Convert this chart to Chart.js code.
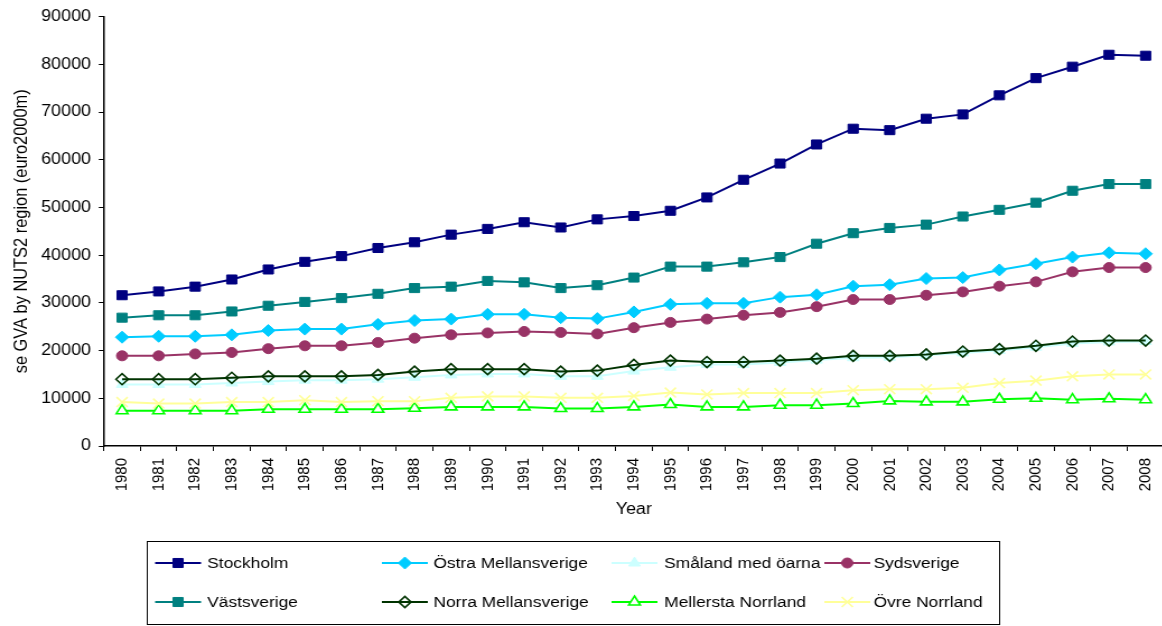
<!DOCTYPE html>
<html>
<head>
<meta charset="utf-8">
<script src="https://cdn.jsdelivr.net/npm/chart.js@4.4.1/dist/chart.umd.min.js"></script>
<style>
  html, body { margin: 0; padding: 0; overflow: hidden; background: #ffffff; }
  #wrap { width: 1162px; height: 626px; overflow: hidden; position: relative; }
  /* the chart is drawn a little narrower and widened to the final size */
  #c { position: absolute; left: 0; top: 0; transform: scaleX(1.12); transform-origin: 0 0; }
</style>
</head>
<body>
<div id="wrap"><canvas id="c" width="1048" height="626"></canvas></div>
<script>
// Gross value added by NUTS2 region, Sweden, million euro (2000 prices)
const years = ['1980','1981','1982','1983','1984','1985','1986','1987','1988','1989',
  '1990','1991','1992','1993','1994','1995','1996','1997','1998','1999',
  '2000','2001','2002','2003','2004','2005','2006','2007','2008'];

const seriesNames = ['Stockholm', 'Östra Mellansverige', 'Småland med öarna', 'Sydsverige',
  'Västsverige', 'Norra Mellansverige', 'Mellersta Norrland', 'Övre Norrland'];

const stockholm = [31600, 32400, 33400, 34900, 37000, 38600, 39800, 41500, 42700, 44300,
  45500, 46900, 45800, 47500, 48200, 49300, 52100, 55800, 59200, 63200,
  66500, 66200, 68600, 69500, 73500, 77100, 79500, 82000, 81800];

const ostraMellansverige = [22800, 23000, 23000, 23300, 24200, 24500, 24500, 25500, 26300, 26600,
  27600, 27600, 26900, 26700, 28100, 29700, 29900, 29900, 31200, 31700,
  33500, 33800, 35100, 35300, 36900, 38200, 39600, 40500, 40300];

const smaland = [12900, 12900, 12900, 13200, 13500, 13800, 13800, 14000, 14400, 14900,
  15100, 15100, 14600, 14600, 15700, 16500, 17100, 17100, 17500, 18000,
  18500, 18600, 19000, 19500, 20000, 20700, 21500, 21800, 21900];

const sydsverige = [18900, 18900, 19300, 19600, 20400, 21000, 21000, 21700, 22600, 23300,
  23700, 24000, 23800, 23500, 24800, 25900, 26600, 27400, 28000, 29200,
  30700, 30700, 31600, 32300, 33500, 34400, 36500, 37400, 37400];

const vastsverige = [26900, 27400, 27400, 28200, 29400, 30200, 31000, 31900, 33100, 33400,
  34600, 34300, 33100, 33700, 35300, 37600, 37600, 38500, 39600, 42400,
  44600, 45700, 46400, 48100, 49500, 51000, 53500, 54900, 54900];

const norraMellansverige = [14000, 14000, 14000, 14300, 14600, 14600, 14600, 14900, 15600, 16100,
  16100, 16100, 15600, 15800, 17000, 17900, 17600, 17600, 17900, 18300,
  18900, 18900, 19200, 19800, 20300, 21000, 21900, 22100, 22100];

const mellerstaNorrland = [7400, 7400, 7400, 7400, 7700, 7700, 7700, 7700, 7900, 8200,
  8200, 8200, 7850, 7850, 8200, 8700, 8200, 8200, 8550, 8550,
  8900, 9450, 9250, 9250, 9800, 10000, 9700, 9900, 9700];

const ovreNorrland = [9200, 8900, 8900, 9200, 9200, 9600, 9200, 9400, 9400, 10100,
  10400, 10400, 10100, 10100, 10500, 11200, 10800, 11100, 11100, 11100,
  11700, 11900, 11900, 12200, 13200, 13700, 14600, 15000, 15000];

const yTicks = [0, 10000, 20000, 30000, 40000, 50000, 60000, 70000, 80000, 90000];

const FONT = '"Liberation Sans", Arial, sans-serif';

function series(label, data, color, style, radius, fill, borderW, order) {
  return {
    label, data,
    borderColor: color,
    backgroundColor: color,
    borderWidth: 2,
    pointStyle: style,
    pointRadius: radius,
    pointHoverRadius: radius,
    pointBackgroundColor: fill,
    pointBorderColor: color,
    pointBorderWidth: borderW,
    tension: 0,
    fill: false,
    order
  };
}

const datasets = [
  series(seriesNames[0], stockholm, '#000080', 'rect', 6.4, '#000080', 1, 7),
  series(seriesNames[1], ostraMellansverige, '#00CCFF', 'rectRot', 6, '#00CCFF', 1, 6),
  series(seriesNames[2], smaland, '#CCFFFF', 'triangle', 6, '#CCFFFF', 1, 5),
  series(seriesNames[3], sydsverige, '#993366', 'circle', 5, '#993366', 1, 4),
  series(seriesNames[4], vastsverige, '#008080', 'rect', 6.4, '#008080', 1, 3),
  series(seriesNames[5], norraMellansverige, '#003300', 'rectRot', 5.5, 'rgba(0,0,0,0)', 1.6, 2),
  series(seriesNames[6], mellerstaNorrland, '#00FF00', 'triangle', 6, '#FFFFFF', 1.6, 1),
  series(seriesNames[7], ovreNorrland, '#FFFF99', 'crossRot', 7, '#FFFF99', 1.6, 0)
];

// legend block under the chart: two rows of four entries inside a framed box
const legendLayout = {
  box: { x: 131.5, y: 541.5, w: 761, h: 83 },
  lineX: [138.5, 341, 546, 736],
  textX: [185, 387, 593, 780],
  rowY: [563, 602],
  sampleLen: 41
};

const boxedLegend = {
  id: 'boxedLegend',
  afterDraw(chart) {
    const ctx = chart.ctx;
    const L = legendLayout;
    ctx.save();
    ctx.strokeStyle = '#000000';
    ctx.lineWidth = 1;
    ctx.strokeRect(L.box.x, L.box.y, L.box.w, L.box.h);
    chart.data.datasets.forEach((ds, i) => {
      const col = i % 4, row = Math.floor(i / 4);
      const x = L.lineX[col], y = L.rowY[row];
      ctx.strokeStyle = ds.borderColor;
      ctx.lineWidth = ds.borderWidth;
      ctx.beginPath();
      ctx.moveTo(x, y);
      ctx.lineTo(x + L.sampleLen, y);
      ctx.stroke();
      ctx.fillStyle = ds.pointBackgroundColor;
      ctx.strokeStyle = ds.pointBorderColor;
      ctx.lineWidth = ds.pointBorderWidth;
      Chart.helpers.drawPoint(ctx, {
        pointStyle: ds.pointStyle, rotation: 0,
        radius: ds.pointRadius, borderWidth: ds.pointBorderWidth
      }, x + L.sampleLen / 2, y);
      ctx.fillStyle = '#000000';
      ctx.font = '15.5px ' + FONT;
      ctx.textAlign = 'left';
      ctx.textBaseline = 'middle';
      ctx.fillText(ds.label, L.textX[col], y + 1);
    });
    ctx.restore();
  }
};

new Chart(document.getElementById('c'), {
  type: 'line',
  data: { labels: years, datasets },
  plugins: [boxedLegend],
  options: {
    responsive: false,
    animation: false,
    devicePixelRatio: 1,
    layout: { padding: { top: 14, right: 8.5, bottom: 100, left: 0 } },
    plugins: {
      legend: { display: false },
      tooltip: { enabled: false }
    },
    scales: {
      x: {
        type: 'category',
        offset: true,
        afterFit(scale) { scale.height = 80; },
        grid: {
          offset: true,
          drawOnChartArea: false,
          drawTicks: true,
          tickLength: 5,
          color: '#000000',
          lineWidth: 1
        },
        border: { display: true, color: '#000000', width: 1.5 },
        ticks: {
          autoSkip: false,
          minRotation: 90,
          maxRotation: 90,
          padding: 7,
          color: '#000000',
          font: { family: FONT, size: 15 }
        },
        title: {
          display: true,
          text: 'Year',
          color: '#000000',
          font: { family: FONT, size: 16 },
          padding: { top: 0, bottom: 7 }
        }
      },
      y: {
        min: 0,
        max: 90000,
        afterFit(scale) { scale.width = 92.7; },
        afterBuildTicks(scale) { scale.ticks = yTicks.map(v => ({ value: v })); },
        grid: {
          drawOnChartArea: false,
          drawTicks: true,
          tickLength: 4.5,
          color: '#000000',
          lineWidth: 1
        },
        border: { display: true, color: '#000000', width: 1.5 },
        ticks: {
          padding: 7,
          color: '#000000',
          font: { family: FONT, size: 16 },
          callback: (value) => String(value)
        },
        title: {
          display: true,
          text: 'se GVA by NUTS2 region (euro2000m)',
          color: '#000000',
          font: { family: FONT, size: 16.4 },
          padding: { top: 10, bottom: 0 }
        }
      }
    }
  }
});
</script>
</body>
</html>
